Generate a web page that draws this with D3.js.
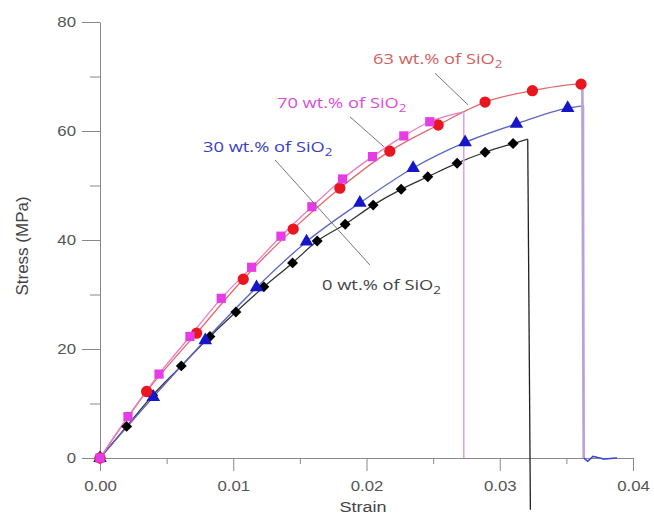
<!DOCTYPE html>
<html>
<head>
<meta charset="utf-8">
<script src="https://d3js.org/d3.v7.min.js"></script>
<style>
body { margin: 0; background: #fff; }
.axis text { font-family: 'Liberation Sans', Arial, sans-serif; font-size: 14px; fill: #555; }
.axis path, .axis line { stroke: #888; }
.lbl { font-family: 'Open Sans', sans-serif; font-size: 15px; }
</style>
</head>
<body>
<svg id="chart" width="654" height="516"></svg>
<script>
// 0 wt.% SiO2 (black diamonds)
var strain0 = [0, 0.0020, 0.00395, 0.0061, 0.00825, 0.0102, 0.0123, 0.01445, 0.0163, 0.0184, 0.0205, 0.0226, 0.0246, 0.0268, 0.0289, 0.0310];
var stress0 = [0, 5.8, 11.5, 16.9, 22.3, 26.8, 31.4, 35.8, 39.8, 42.9, 46.4, 49.3, 51.6, 54.1, 56.1, 57.7];
var tail0 = [[0.0321, 58.5], [0.0323, -9.5]];
// 30 wt.% SiO2 (blue triangles)
var strain30 = [0, 0.0040, 0.0079, 0.01175, 0.0155, 0.0195, 0.0235, 0.0274, 0.03125, 0.0351];
var stress30 = [0, 11.2, 21.6, 31.3, 39.7, 46.8, 53.2, 57.9, 61.3, 64.2];
var tail30 = [[0.0363, 64.6], [0.0363, 0], [0.0366, -0.6], [0.0370, 0.3], [0.0378, -0.2], [0.0388, 0]];
// 63 wt.% SiO2 (red circles)
var strain63 = [0, 0.0035, 0.00725, 0.01075, 0.0145, 0.0180, 0.02175, 0.02538, 0.0289, 0.03245, 0.0361];
var stress63 = [0, 12.2, 22.9, 32.8, 42.0, 49.5, 56.3, 61.1, 65.3, 67.4, 68.6];
var tail63 = [[0.0362, 68.6], [0.0363, 0]];
// 70 wt.% SiO2 (magenta squares)
var strain70 = [0, 0.0021, 0.00443, 0.00675, 0.0091, 0.01138, 0.01358, 0.0159, 0.0182, 0.02045, 0.0228, 0.02475];
var stress70 = [0, 7.6, 15.4, 22.3, 29.3, 35.0, 40.7, 46.1, 51.2, 55.3, 59.1, 61.7];
var tail70 = [[0.0273, 63.5], [0.0273, 0]];

var xMajor = [0, 0.01, 0.02, 0.03, 0.04];
var xMinor = [0.005, 0.015, 0.025, 0.035];
var yMajor = [0, 20, 40, 60, 80];
var yMinor = [10, 30, 50, 70];

var svg = d3.select('#chart');
var xs = d3.scaleLinear().domain([0, 0.04]).range([100, 633]);
var ys = d3.scaleLinear().domain([0, 80]).range([458, 22]);
var stretch = 1.2; // text in the picture is a bit wide

//axes
svg.append('g').attr('class', 'axis').attr('transform', 'translate(0,458)')
  .call(d3.axisBottom(xs).tickValues(xMajor).tickFormat(d3.format('.2f')).tickSize(13).tickSizeOuter(0).tickPadding(10))
  .selectAll('text').attr('transform', 'scale(' + stretch + ',1)');
svg.append('g').attr('class', 'axis').attr('transform', 'translate(0,458)')
  .call(d3.axisBottom(xs).tickValues(xMinor).tickFormat('').tickSize(6).tickSizeOuter(0))
  .select('.domain').remove();
svg.append('g').attr('class', 'axis').attr('transform', 'translate(100,0)')
  .call(d3.axisLeft(ys).tickValues(yMajor).tickSize(18).tickSizeOuter(0))
  .selectAll('text').attr('x', -24 / stretch).attr('transform', 'scale(' + stretch + ',1)');
svg.append('g').attr('class', 'axis').attr('transform', 'translate(100,0)')
  .call(d3.axisLeft(ys).tickValues(yMinor).tickFormat('').tickSize(10).tickSizeOuter(0))
  .select('.domain').remove();

svg.append('text').attr('transform', 'translate(363,512) scale(' + stretch + ',1)').attr('text-anchor', 'middle')
  .style('font-family', 'Liberation Sans, Arial').style('font-size', '15px').style('fill', '#444').text('Strain');
svg.append('text').attr('transform', 'translate(28,246) rotate(-90)').attr('text-anchor', 'middle')
  .style('font-family', 'Liberation Sans, Arial').style('font-size', '17px').style('fill', '#444').text('Stress (MPa)');

var series = [
  {x: strain0, y: stress0, tail: tail0, line: '#333', drop: '#222', dropW: 1.3, fill: '#000', sym: d3.symbolSquare, size: 60, rot: 45},
  {x: strain30, y: stress30, tail: tail30, line: '#5b66c4', drop: '#b2a4d8', dropW: 1.2, fill: '#1616c8', sym: d3.symbolTriangle, size: 80, rot: 0},
  {x: strain63, y: stress63, tail: tail63, line: '#e06a6a', drop: '#b4a4d8', dropW: 2.6, fill: '#e8161e', sym: d3.symbolCircle, size: 100, rot: 0},
  {x: strain70, y: stress70, tail: tail70, line: '#f07ac8', drop: '#d8a6e6', dropW: 1.6, fill: '#e63ce6', sym: d3.symbolSquare, size: 85, rot: 0}
];

var line = d3.line().x(function(d) { return xs(d[0]); }).y(function(d) { return ys(d[1]); });

series.forEach(function(s) {
  var pts = s.x.map(function(v, i) { return [v, s.y[i]]; });
  svg.append('path').attr('d', line.curve(d3.curveMonotoneX)(pts.concat([s.tail[0]])))
    .attr('fill', 'none').attr('stroke', s.line).attr('stroke-width', 1.3);
  svg.append('path').attr('d', line.curve(d3.curveLinear)(s.tail))
    .attr('fill', 'none').attr('stroke', s.drop).attr('stroke-width', s.dropW);
});
series.forEach(function(s) {
  svg.append('g').selectAll('path').data(s.x).enter().append('path')
    .attr('d', d3.symbol().type(s.sym).size(s.size))
    .attr('transform', function(d, i) { return 'translate(' + xs(d) + ',' + ys(s.y[i]) + ') rotate(' + s.rot + ')'; })
    .attr('fill', s.fill);
});
// blue wiggle at the end of 30% curve
svg.append('path').attr('d', line.curve(d3.curveLinear)(tail30.slice(1)))
  .attr('fill', 'none').attr('stroke', '#3a4ad0').attr('stroke-width', 1.5);

//labels with leader lines (data coords)
var labels = [
  {t: '63 wt.% of SiO', x: 0.02049, y: 72.3, c: '#d45f5f'},
  {t: '70 wt.% of SiO', x: 0.01328, y: 64.2, c: '#dc4cdc'},
  {t: '30 wt.% of SiO', x: 0.00773, y: 56.1, c: '#3a3ec4'},
  {t: '0 wt.% of SiO', x: 0.01666, y: 30.8, c: '#444'}
];
var leaders = [
  [[0.02514, 70.6], [0.02762, 64.8]],
  [[0.01876, 62.6], [0.02131, 57.1]],
  [[0.01313, 54.7], [0.02026, 35.4]]
];
leaders.forEach(function(l) {
  svg.append('path').attr('d', line.curve(d3.curveLinear)(l))
    .attr('stroke', '#777').attr('stroke-width', 1).attr('fill', 'none');
});
labels.forEach(function(l) {
  var t = svg.append('text').attr('class', 'lbl')
    .attr('transform', 'translate(' + xs(l.x) + ',' + ys(l.y) + ') scale(1.22,1)').style('fill', l.c);
  t.append('tspan').text(l.t);
  t.append('tspan').attr('dy', 4).style('font-size', '11px').text('2');
});
</script>
</body>
</html>
